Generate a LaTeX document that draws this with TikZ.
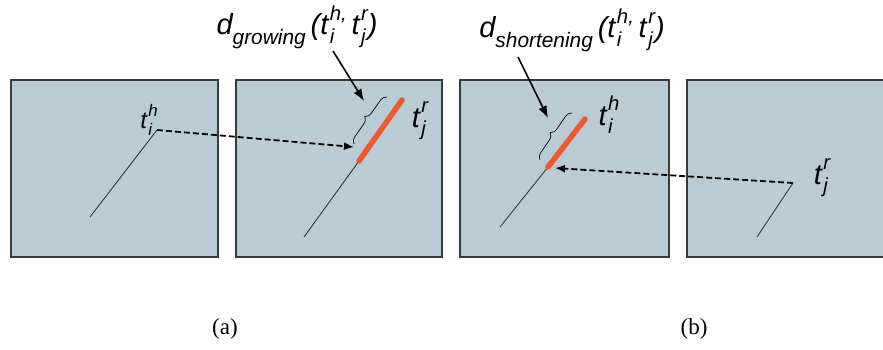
\documentclass[tikz,border=0pt]{standalone}
\usepackage{fontspec}
\setmainfont{Liberation Serif}
\newfontfamily\labelfont{Liberation Sans}
\usetikzlibrary{arrows.meta,decorations.pathreplacing}
\definecolor{panelgrey}{HTML}{B9CBD4}
\definecolor{paneledge}{HTML}{3A3A3A}
\definecolor{tipred}{HTML}{F1592A}
% t with sub- and superscript in the label font
\newcommand\tix[2]{t\hspace{0.05em}\rlap{\raisebox{-0.3em}{\scalebox{0.7}{#1}}}\raisebox{0.5em}{\scalebox{0.7}{#2}}}
\tikzset{
  panel/.style={draw=paneledge, fill=panelgrey, line width=1.3pt, minimum width=#1, minimum height=177pt, inner sep=0pt},
  panel/.default=207pt,
  strand/.style={line width=0.8pt, draw=black!85},
  growth/.style={line width=5.5pt, draw=tipred, line cap=round},
  match/.style={-{Latex[length=10pt,width=8pt]}, dash pattern=on 6pt off 3pt, line width=1.8pt},
  pointer/.style={-{Latex[length=12pt,width=9pt]}, line width=1.6pt},
  gap/.style={decorate, decoration={brace, amplitude=7pt}, line width=0.7pt},
  tiplabel/.style={font=\labelfont\itshape\fontsize{29}{32}\selectfont, inner sep=0pt},
  dlabel/.style={font=\labelfont\itshape\fontsize{29}{32}\selectfont, inner sep=0pt},
  caption/.style={font=\fontsize{23}{26}\selectfont, inner sep=0pt}
}

\begin{document}
\begin{tikzpicture}[x=1pt, y=-1pt]
  \clip (0,0) rectangle (883,349);
  % panels
  \node[panel] (pa1) at (114.5,168.5) {};
  \node[panel=206pt] (pa2) at (339,168.5) {};
  \node[panel=209pt] (pb1) at (564.5,168.5) {};
  \node[panel=198pt] (pb2) at (786,168.5) {};

  % (a) growing
  \coordinate (a1) at (90,217);
  \coordinate (a2) at (157,130);
  \coordinate (a3) at (304,237);
  \coordinate (a4) at (359,161);
  \coordinate (a5) at (402,100);
  \draw[strand] (a1) -- (a2);
  \draw[strand] (a3) -- (a4);
  \draw[growth] (a4) -- (a5);
  \coordinate (ag) at (354,147);
  \draw[match] (a2) -- (ag);
  \coordinate (ab1) at (354,144);
  \coordinate (ab2) at (387,97);
  \draw[gap] (ab1) -- (ab2);
  \node[tiplabel, font=\labelfont\itshape\fontsize{24}{26}\selectfont] (ath) at (149,120) {\tix{i}{h}};
  \node[tiplabel] (atr) at (420,121) {\tix{j}{r}};
  \node[dlabel] (dgrow) at (297,27) {d\raisebox{-0.32em}{\scalebox{0.72}{growing}}\,(\tix{i}{h,}\,\tix{j}{r})};
  \coordinate (ap1) at (333,51);
  \coordinate (ap2) at (364,101);
  \draw[pointer] (ap1) -- (ap2);

  % (b) shortening
  \coordinate (b1) at (500,227);
  \coordinate (b2) at (548,167);
  \coordinate (b3) at (585,119);
  \coordinate (b4) at (757,237);
  \coordinate (b5) at (793,183);
  \draw[strand] (b1) -- (b2);
  \draw[growth] (b2) -- (b3);
  \draw[strand] (b4) -- (b5);
  \coordinate (bg) at (555,168);
  \draw[match] (b5) -- (bg);
  \coordinate (bb1) at (540,160);
  \coordinate (bb2) at (572,113);
  \draw[gap] (bb1) -- (bb2);
  \node[tiplabel] (bth) at (609,115) {\tix{i}{h}};
  \node[tiplabel] (btr) at (822,178) {\tix{j}{r}};
  \node[dlabel] (dshort) at (572,30) {d\raisebox{-0.32em}{\scalebox{0.72}{shortening}}\,(\tix{i}{h,}\,\tix{j}{r})};
  \coordinate (bp1) at (518,57);
  \coordinate (bp2) at (548,118);
  \draw[pointer] (bp1) -- (bp2);

  \node[caption] (capa) at (225,329) {(a)};
  \node[caption] (capb) at (694,329) {(b)};
\end{tikzpicture}
\end{document}
